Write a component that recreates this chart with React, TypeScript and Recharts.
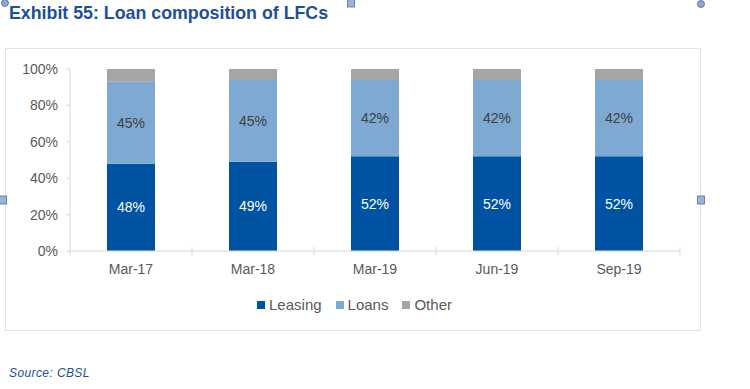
import React from 'react';
import { BarChart, Bar, XAxis, YAxis, Legend, LabelList } from 'recharts';

const periods = ['Mar-17', 'Mar-18', 'Mar-19', 'Jun-19', 'Sep-19'];
const leasing = [48, 49, 52, 52, 52];
const loans = [45, 45, 42, 42, 42];
const other = [7, 6, 6, 6, 6];
const yTicks = [0, 20, 40, 60, 80, 100];

const seriesInfo = [
  { key: 'leasing', name: 'Leasing', color: '#0052A2', labelColor: '#ffffff' },
  { key: 'loans', name: 'Loans', color: '#7DA9D3', labelColor: '#404040' },
  { key: 'other', name: 'Other', color: '#A5A5A5', labelColor: '' },
];

const data = periods.map((period, i) => ({
  period,
  leasing: leasing[i],
  loans: loans[i],
  other: other[i],
}));

const FONT = '"Liberation Sans", Arial, sans-serif';
const AXIS = '#D9D9D9';

function CategoryTick(props: any) {
  const { x, y, payload, index, width, visibleTicksCount } = props;
  const band = width && visibleTicksCount ? width / visibleTicksCount : 122;
  const axisY = y - 8;
  return (
    <g>
      {index === 0 && (
        <line x1={x - band / 2} x2={x - band / 2} y1={axisY - 4} y2={axisY + 4} stroke={AXIS} />
      )}
      <line x1={x + band / 2} x2={x + band / 2} y1={axisY - 4} y2={axisY + 4} stroke={AXIS} />
      <text x={x} y={y + 15} textAnchor="middle" fill="#595959" fontSize={14} fontFamily={FONT}>
        {payload.value}
      </text>
    </g>
  );
}

function LegendContent() {
  return (
    <div
      style={{
        display: 'flex',
        justifyContent: 'center',
        gap: 14,
        fontFamily: FONT,
        fontSize: 15,
        color: '#595959',
        paddingLeft: 24,
        paddingTop: 3,
      }}
    >
      {seriesInfo.map((s) => (
        <span key={s.key} style={{ display: 'flex', alignItems: 'center' }}>
          <span style={{ width: 8, height: 8, background: s.color, marginRight: 4, display: 'inline-block' }} />
          {s.name}
        </span>
      ))}
    </div>
  );
}

function Handle({ kind, x, y }: { kind: 'circle' | 'square'; x: number; y: number }) {
  if (kind === 'circle') {
    return <circle cx={x} cy={y} r={3.5} fill="#8FA8CF" stroke="#4A6FA5" strokeWidth={0.8} />;
  }
  return <rect x={x - 3.5} y={y - 4} width={7} height={8} fill="#9DB3D6" stroke="#4A6FA5" strokeWidth={0.8} />;
}

export default function App() {
  return (
    <div style={{ position: 'absolute', left: 0, top: 0, width: 750, height: 389, background: '#fff', overflow: 'hidden' }}>
      <div
        style={{
          position: 'absolute',
          left: 9,
          top: 3,
          fontFamily: FONT,
          fontWeight: 'bold',
          fontSize: 17.8,
          color: '#1E4F9C',
        }}
      >
        Exhibit 55: Loan composition of LFCs
      </div>
      <div
        style={{
          position: 'absolute',
          left: 5,
          top: 48,
          width: 694,
          height: 281,
          border: '1px solid #E3E3E3',
        }}
      />
      <div style={{ position: 'absolute', left: 5, top: 48 }}>
        <BarChart
          width={695}
          height={282}
          data={data}
          margin={{ top: 21, right: 20, bottom: 17, left: 0 }}
          barSize={48}
        >
          <YAxis
            width={65}
            domain={[0, 100]}
            ticks={yTicks}
            tickFormatter={(v: number) => `${v}%`}
            axisLine={{ stroke: AXIS }}
            tickLine={{ stroke: AXIS }}
            tickSize={4}
            tickMargin={8}
            tick={{ fill: '#595959', fontSize: 14, fontFamily: FONT }}
          />
          <XAxis
            dataKey="period"
            height={42}
            axisLine={{ stroke: AXIS }}
            tickLine={false}
            tick={<CategoryTick />}
            interval={0}
          />
          <Legend verticalAlign="bottom" height={20} content={<LegendContent />} />
          {seriesInfo.map((s) => (
            <Bar key={s.key} dataKey={s.key} name={s.name} stackId="a" fill={s.color} isAnimationActive={false}>
              {s.labelColor && (
                <LabelList
                  dataKey={s.key}
                  position="center"
                  formatter={(v: any) => `${v}%`}
                  fill={s.labelColor}
                  fontSize={14}
                  fontFamily={FONT}
                />
              )}
            </Bar>
          ))}
        </BarChart>
      </div>
      <div
        style={{
          position: 'absolute',
          left: 9,
          top: 366,
          fontFamily: FONT,
          fontStyle: 'italic',
          fontSize: 12,
          letterSpacing: 0.4,
          color: '#1E4F9C',
        }}
      >
        Source: CBSL
      </div>
      <svg width={750} height={389} style={{ position: 'absolute', left: 0, top: 0, pointerEvents: 'none' }}>
        <Handle kind="circle" x={5} y={3} />
        <Handle kind="square" x={351} y={3} />
        <Handle kind="circle" x={701} y={4} />
        <Handle kind="square" x={3} y={200} />
        <Handle kind="square" x={701} y={200} />
      </svg>
    </div>
  );
}
